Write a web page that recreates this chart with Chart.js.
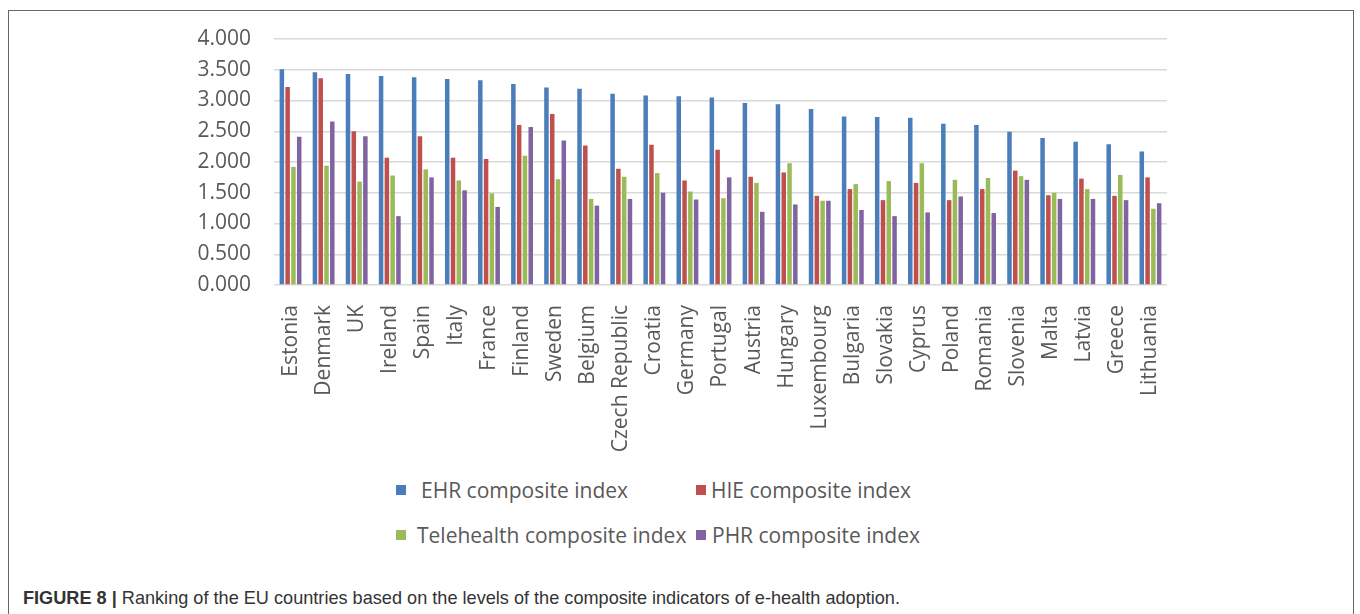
<!DOCTYPE html>
<html>
<head>
<meta charset="utf-8">
<script src="https://cdn.jsdelivr.net/npm/chart.js@4"></script>
<style>
  html, body { margin: 0; padding: 0; background: #fff; width: 1360px; height: 614px; overflow: hidden; }
  #frame { position: absolute; left: 8px; top: 10px; width: 1346px; height: 620px; border: 1.5px solid #666; border-bottom: none; box-sizing: border-box; }
  #wrap { position: absolute; left: 0; top: 1px; width: 1360px; height: 470px; }
  .leg { position: absolute; font-family: "Open Sans", sans-serif; font-size: 21px; color: #595959; white-space: nowrap; line-height: 1; }
  .box { position: absolute; width: 10px; height: 10px; }
  #caption { position: absolute; left: 23px; top: 587px; font-family: "Liberation Sans Narrow", "Liberation Sans", Arial, sans-serif; font-size: 19px; color: #333; white-space: nowrap; transform-origin: 0 50%; line-height: 22px; }
  #caption b { font-weight: bold; }
</style>
</head>
<body>
<div id="frame"></div>
<div id="wrap"><canvas id="c" width="1360" height="470"></canvas></div>
<div id="legend"></div>
<div id="caption"><b>FIGURE 8 |</b> Ranking of the EU countries based on the levels of the composite indicators of e-health adoption.</div>
<script>
const countries = ["Estonia","Denmark","UK","Ireland","Spain","Italy","France","Finland","Sweden","Belgium","Czech Republic","Croatia","Germany","Portugal","Austria","Hungary","Luxembourg","Bulgaria","Slovakia","Cyprus","Poland","Romania","Slovenia","Malta","Latvia","Greece","Lithuania"];
const ehr  = [3.51,3.46,3.43,3.40,3.38,3.35,3.33,3.27,3.21,3.19,3.11,3.08,3.07,3.05,2.96,2.94,2.86,2.74,2.73,2.72,2.62,2.60,2.49,2.39,2.33,2.29,2.17];
const hie  = [3.22,3.36,2.50,2.07,2.42,2.07,2.05,2.60,2.78,2.27,1.89,2.28,1.70,2.20,1.76,1.83,1.45,1.56,1.38,1.66,1.38,1.56,1.86,1.46,1.73,1.45,1.75];
const tele = [1.92,1.94,1.68,1.78,1.88,1.70,1.49,2.10,1.72,1.40,1.76,1.82,1.52,1.41,1.66,1.98,1.37,1.64,1.69,1.98,1.71,1.74,1.77,1.50,1.56,1.79,1.24];
const phr  = [2.41,2.66,2.42,1.12,1.75,1.54,1.27,2.57,2.35,1.29,1.40,1.50,1.39,1.75,1.19,1.31,1.37,1.22,1.12,1.18,1.44,1.17,1.71,1.40,1.40,1.38,1.33];
const seriesNames = ["EHR composite index","HIE composite index","Telehealth composite index","PHR composite index"];
const seriesColors = ["#4A7EBB","#C0504D","#9BBB59","#8064A2"];
const yTicks = ["0.000","0.500","1.000","1.500","2.000","2.500","3.000","3.500","4.000"];

const allSeries = [ehr, hie, tele, phr];
const FONT = { family: "'Open Sans', sans-serif", size: 21 };

new Chart(document.getElementById('c'), {
  type: 'bar',
  data: {
    labels: countries,
    datasets: allSeries.map((d, i) => ({
      label: seriesNames[i],
      data: d,
      backgroundColor: seriesColors[i],
      borderWidth: 0,
      categoryPercentage: 0.7,
      barPercentage: 0.78
    }))
  },
  options: {
    responsive: false,
    animation: false,
    devicePixelRatio: 1,
    layout: { padding: { left: 197, right: 193, top: 38, bottom: 0 } },
    plugins: { legend: { display: false }, tooltip: { enabled: false } },
    scales: {
      x: {
        grid: { display: false },
        border: { display: false },
        ticks: { color: '#595959', font: FONT, minRotation: 90, maxRotation: 90, padding: 12, autoSkip: false },
        afterFit: s => { s.height = 186; }
      },
      y: {
        min: 0, max: 4,
        grid: { color: '#d9d9d9', lineWidth: 1.5, drawTicks: false },
        border: { display: false },
        ticks: {
          stepSize: 0.5, color: '#595959', font: FONT, padding: 23,
          callback: (v, idx) => yTicks[idx]
        },
        afterFit: s => { s.width = 77; }
      }
    }
  }
});

// HTML legend built from the series arrays
const legPos = [[396, 421, 483], [696, 711, 483], [396, 417, 528], [696, 712, 528]];
const legend = document.getElementById('legend');
seriesNames.forEach((name, i) => {
  const [bx, tx, ty] = legPos[i];
  const b = document.createElement('div');
  b.className = 'box';
  b.style.left = bx + 'px'; b.style.top = (ty + 2) + 'px';
  b.style.background = seriesColors[i];
  legend.appendChild(b);
  const t = document.createElement('div');
  t.className = 'leg';
  t.style.left = tx + 'px'; t.style.top = (ty - 3) + 'px';
  t.textContent = name;
  legend.appendChild(t);
});

// fit caption width
const cap = document.getElementById('caption');
const w = cap.getBoundingClientRect().width;
cap.style.transform = 'scaleX(' + (877 / w) + ')';
</script>
</body>
</html>
